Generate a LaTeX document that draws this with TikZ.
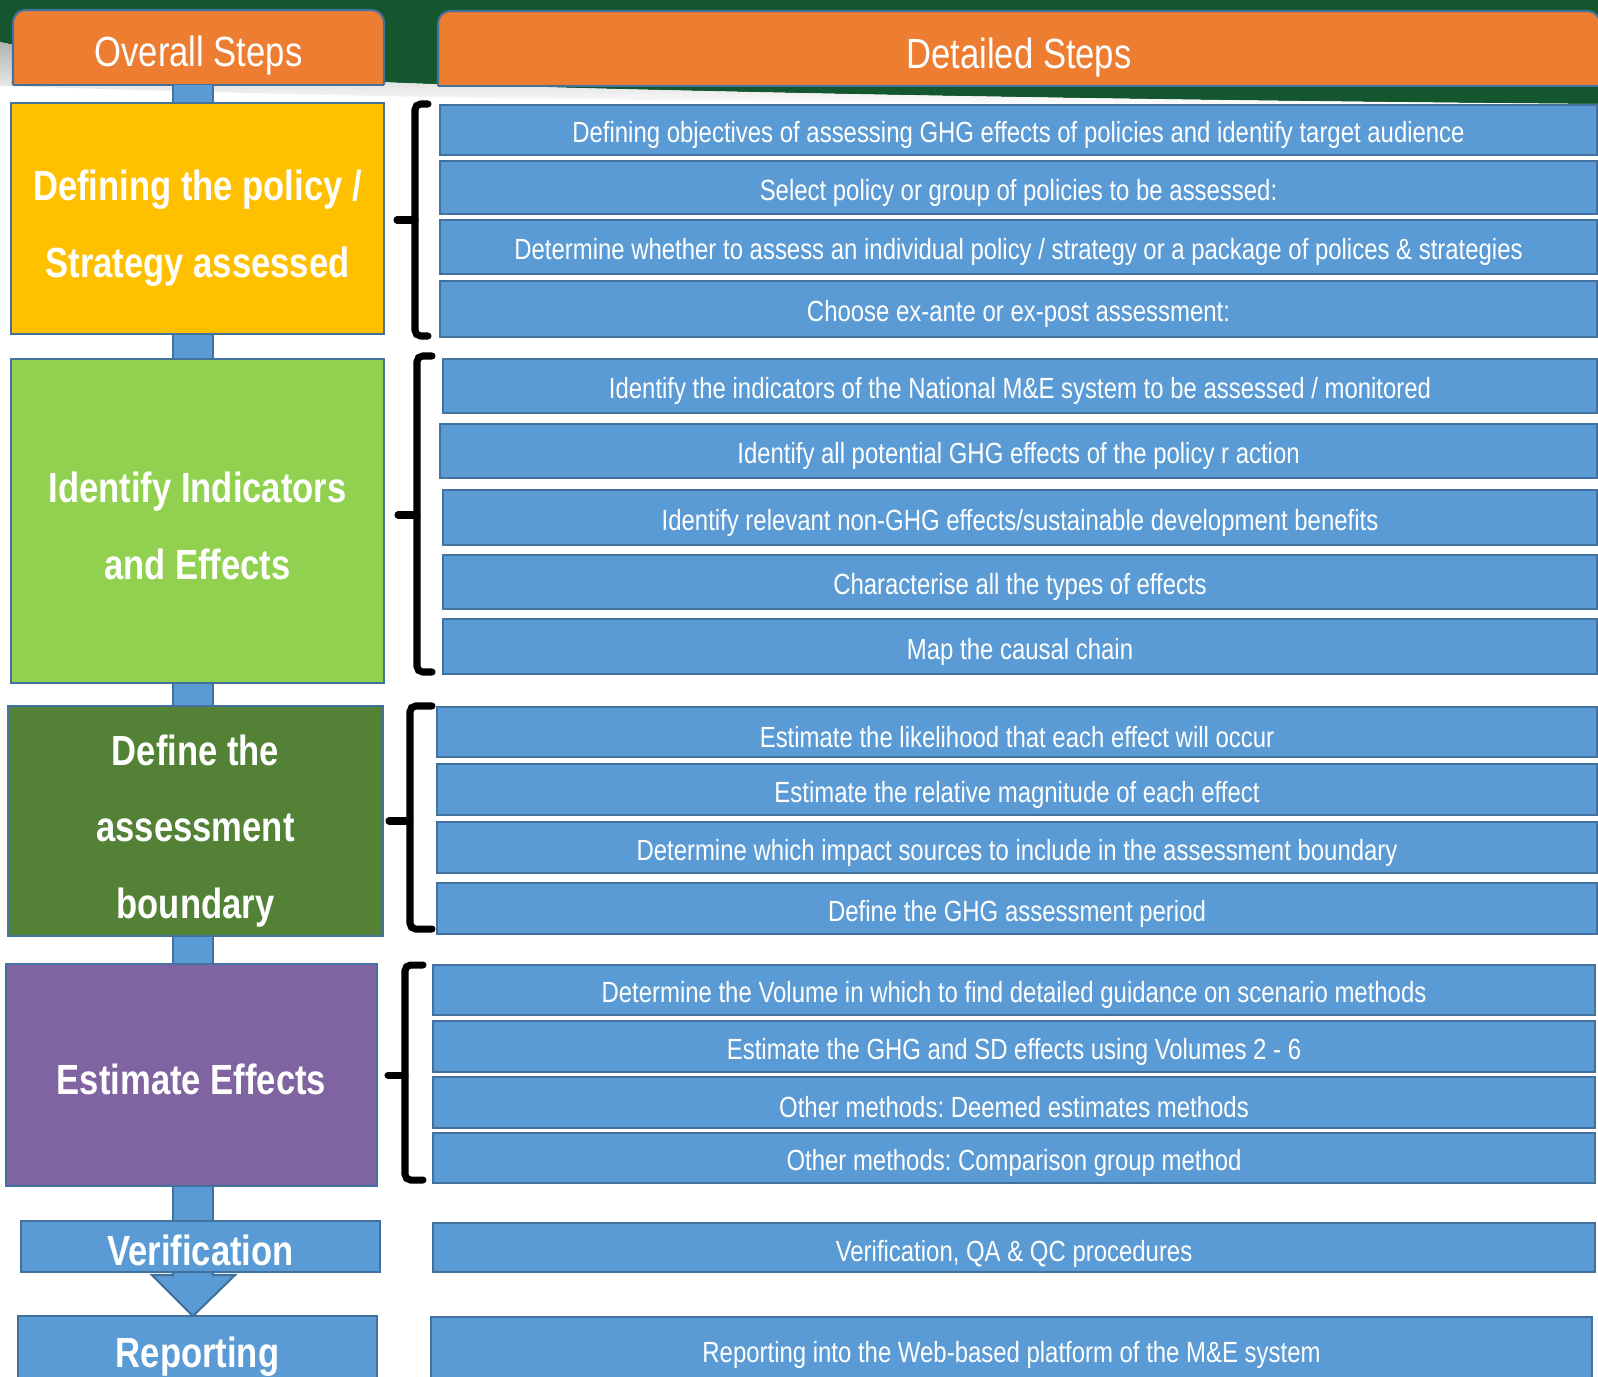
\documentclass[tikz,border=0pt]{standalone}
\usepackage{fontspec}
\setmainfont{Liberation Sans}[FakeStretch=0.82]
\usetikzlibrary{calc}
\definecolor{boxblue}{HTML}{5B9BD5}
\definecolor{bordblue}{HTML}{41719C}
\definecolor{hdrorange}{HTML}{ED7D31}
\definecolor{stepyellow}{HTML}{FFC000}
\definecolor{steplgreen}{HTML}{92D050}
\definecolor{stepdgreen}{HTML}{538135}
\definecolor{steppurple}{HTML}{8064A2}
\definecolor{bandgreen}{HTML}{14572E}
\pgfdeclarelayer{back}\pgfdeclarelayer{bg}\pgfsetlayers{back,bg,main}
% #1 box style, #2 name, #3-#6 x1 y1 x2 y2 (px), #7 text style, #8 text offset (px, down), #9 text
\newcommand\mkbox[9]{%
 \pgfmathsetmacro\mbcx{(#3+#5)/2}%
 \pgfmathsetmacro\mbcy{(#4+#6)/2}%
 \pgfmathsetmacro\mbw{(#5-#3)*0.01}%
 \pgfmathsetmacro\mbh{(#6-#4)*0.01}%
 \node[#1, minimum width=\mbw cm, minimum height=\mbh cm] (#2) at (\mbcx,\mbcy) {};
 \node[#7] (#2-t) at ($(#2.center)+(0,#8)$) {#9};}
\newcommand\mkbrace[6]{%
 \draw[bracestroke] (#4,#1) -- (#3,#1) -- (#3,#2) -- (#4,#2);
 \draw[bracestroke] (#3,#6) -- (#5,#6);}
\begin{document}
\frenchspacing
\begin{tikzpicture}[x=0.01cm,y=-0.01cm,
 dstep/.style={fill=boxblue, draw=bordblue, line width=0.6pt, inner sep=0pt, outer sep=0pt},
 dtext/.style={inner sep=0pt, text=white, font=\fontsize{8.3}{10}\selectfont},
 lstep/.style={draw=bordblue, line width=0.6pt, inner sep=0pt, outer sep=0pt},
 ltext/.style={inner sep=0pt, text=white, align=center, font=\bfseries\fontsize{12}{21.8}\selectfont},
 hdr/.style={inner sep=0pt, outer sep=0pt},
 htext/.style={inner sep=0pt, text=white, font=\fontsize{12}{14}\selectfont},
 hdrshape/.style={fill=hdrorange, draw=bordblue, line width=0.6pt},
 stub/.style={draw=bordblue, line width=0.6pt, double=boxblue, double distance=10.8pt},
 bracestroke/.style={draw=black, line width=2pt, line cap=round, rounded corners=1.6pt},
]
\useasboundingbox (0,0) rectangle (1598,1376);
\clip (0,0) rectangle (1598,1376);
\coordinate (sx) at (193,0);

% background band
\begin{pgfonlayer}{back}
\fill[white] (0,0) rectangle (1598,1376);
\fill[bandgreen] (0,0) -- (1598,0) -- (1598,104) .. controls (1100,100) and (700,92) .. (430,84) .. controls (250,78) and (80,60) .. (0,42) -- cycle;
\shade[top color=gray!60, bottom color=white] (0,42) .. controls (80,60) and (250,78) .. (430,84) .. controls (700,92) and (1100,100) .. (1598,104) -- (1598,106) .. controls (1000,104) and (600,100) .. (430,97) .. controls (250,94) and (80,88) .. (0,86) -- cycle;
\end{pgfonlayer}

% headers
\mkbox{hdr}{hOverall}{13}{10}{384}{85}{htext}{8}{Overall Steps}
\mkbox{hdr}{hDetail}{438}{11}{1600}{86}{htext}{9}{Detailed Steps}

% left steps
\mkbox{lstep, fill=stepyellow}{yellow}{11}{103}{384}{334}{ltext}{10}{Defining the policy /\\Strategy assessed}
\mkbox{lstep, fill=steplgreen}{lgreen}{11}{359}{384}{683}{ltext}{5}{Identify Indicators\\and Effects}
\mkbox{lstep, fill=stepdgreen}{dgreen}{8}{706}{383}{936}{ltext}{10}{Define the\\assessment\\boundary}
\mkbox{lstep, fill=steppurple}{purple}{6}{964}{377}{1186}{ltext}{4}{Estimate Effects}
\mkbox{lstep, fill=boxblue}{verif}{21}{1221}{380}{1272}{ltext}{4}{Verification}
\mkbox{lstep, fill=boxblue}{report}{18}{1316}{377}{1390}{ltext}{4}{Reporting}

% detailed steps
\mkbox{dstep}{d11}{440}{105}{1597}{155}{dtext}{5}{Defining objectives of assessing GHG effects of policies and identify target audience}
\mkbox{dstep}{d12}{440}{161}{1597}{214}{dtext}{5}{Select policy or group of policies to be assessed:}
\mkbox{dstep}{d13}{440}{220}{1597}{274}{dtext}{5}{Determine whether to assess an individual policy / strategy or a package of polices \& strategies}
\mkbox{dstep}{d14}{440}{281}{1597}{337}{dtext}{5}{Choose ex-ante or ex-post assessment:}

\mkbox{dstep}{d21}{443}{359}{1597}{413}{dtext}{5}{Identify the indicators of the National M\&E system to be assessed / monitored}
\mkbox{dstep}{d22}{440}{424}{1597}{478}{dtext}{5}{Identify all potential GHG effects of the policy r action}
\mkbox{dstep}{d23}{443}{490}{1597}{545}{dtext}{5}{Identify relevant non-GHG effects/sustainable development benefits}
\mkbox{dstep}{d24}{443}{555}{1597}{609}{dtext}{5}{Characterise all the types of effects}
\mkbox{dstep}{d25}{443}{619}{1597}{674}{dtext}{5}{Map the causal chain}

\mkbox{dstep}{d31}{437}{707}{1597}{757}{dtext}{5}{Estimate the likelihood that each effect will occur}
\mkbox{dstep}{d32}{437}{764}{1597}{815}{dtext}{5}{Estimate the relative magnitude of each effect}
\mkbox{dstep}{d33}{437}{822}{1597}{873}{dtext}{5}{Determine which impact sources to include in the assessment boundary}
\mkbox{dstep}{d34}{437}{883}{1597}{934}{dtext}{5}{Define the GHG assessment period}

\mkbox{dstep}{d41}{433}{965}{1595}{1015}{dtext}{5}{Determine the Volume in which to find detailed guidance on scenario methods}
\mkbox{dstep}{d42}{433}{1021}{1595}{1072}{dtext}{5}{Estimate the GHG and SD effects using Volumes 2 - 6}
\mkbox{dstep}{d43}{433}{1077}{1595}{1128}{dtext}{5}{Other methods: Deemed estimates methods}
\mkbox{dstep}{d44}{433}{1133}{1595}{1183}{dtext}{5}{Other methods: Comparison group method}

\mkbox{dstep}{dver}{433}{1223}{1595}{1272}{dtext}{6}{Verification, QA \& QC procedures}
\mkbox{dstep}{drep}{431}{1317}{1592}{1392}{dtext}{0}{Reporting into the Web-based platform of the M\&E system}

% header shapes, stubs, arrow
\begin{pgfonlayer}{bg}
\filldraw[hdrshape, rounded corners=3.5pt] (hOverall.south west) -- (hOverall.north west) -- (hOverall.north east) -- (hOverall.south east);
\draw[bordblue, line width=0.6pt] (hOverall.south west) -- (hOverall.south east);
\filldraw[hdrshape, rounded corners=3.5pt] (hDetail.south west) -- (hDetail.north west) -- (hDetail.north east) -- (hDetail.south east);
\draw[bordblue, line width=0.6pt] (hDetail.south west) -- (hDetail.south east);
\draw[stub] (hOverall.south -| sx) -- (yellow.north -| sx);
\draw[stub] (yellow.south -| sx) -- (lgreen.north -| sx);
\draw[stub] (lgreen.south -| sx) -- (dgreen.north -| sx);
\draw[stub] (dgreen.south -| sx) -- (purple.north -| sx);
\draw[stub] (purple.south -| sx) -- (verif.north -| sx);
\filldraw[fill=boxblue, draw=bordblue, line width=0.6pt, line join=miter]
  ($(verif.south -| sx)+(-20,-4)$) -- ($(verif.south -| sx)+(-20,3)$) -- ($(verif.south -| sx)+(-41,3)$)
  -- (report.north -| sx) -- ($(verif.south -| sx)+(42,3)$) -- ($(verif.south -| sx)+(20,3)$) -- ($(verif.south -| sx)+(20,-4)$);
\end{pgfonlayer}

% braces
\mkbrace{104}{336}{415}{428}{397}{220}
\mkbrace{356}{672}{417}{432}{398}{515}
\mkbrace{706}{929}{410}{432}{389}{821}
\mkbrace{965}{1180}{405}{423}{388}{1075}
\end{tikzpicture}
\end{document}
